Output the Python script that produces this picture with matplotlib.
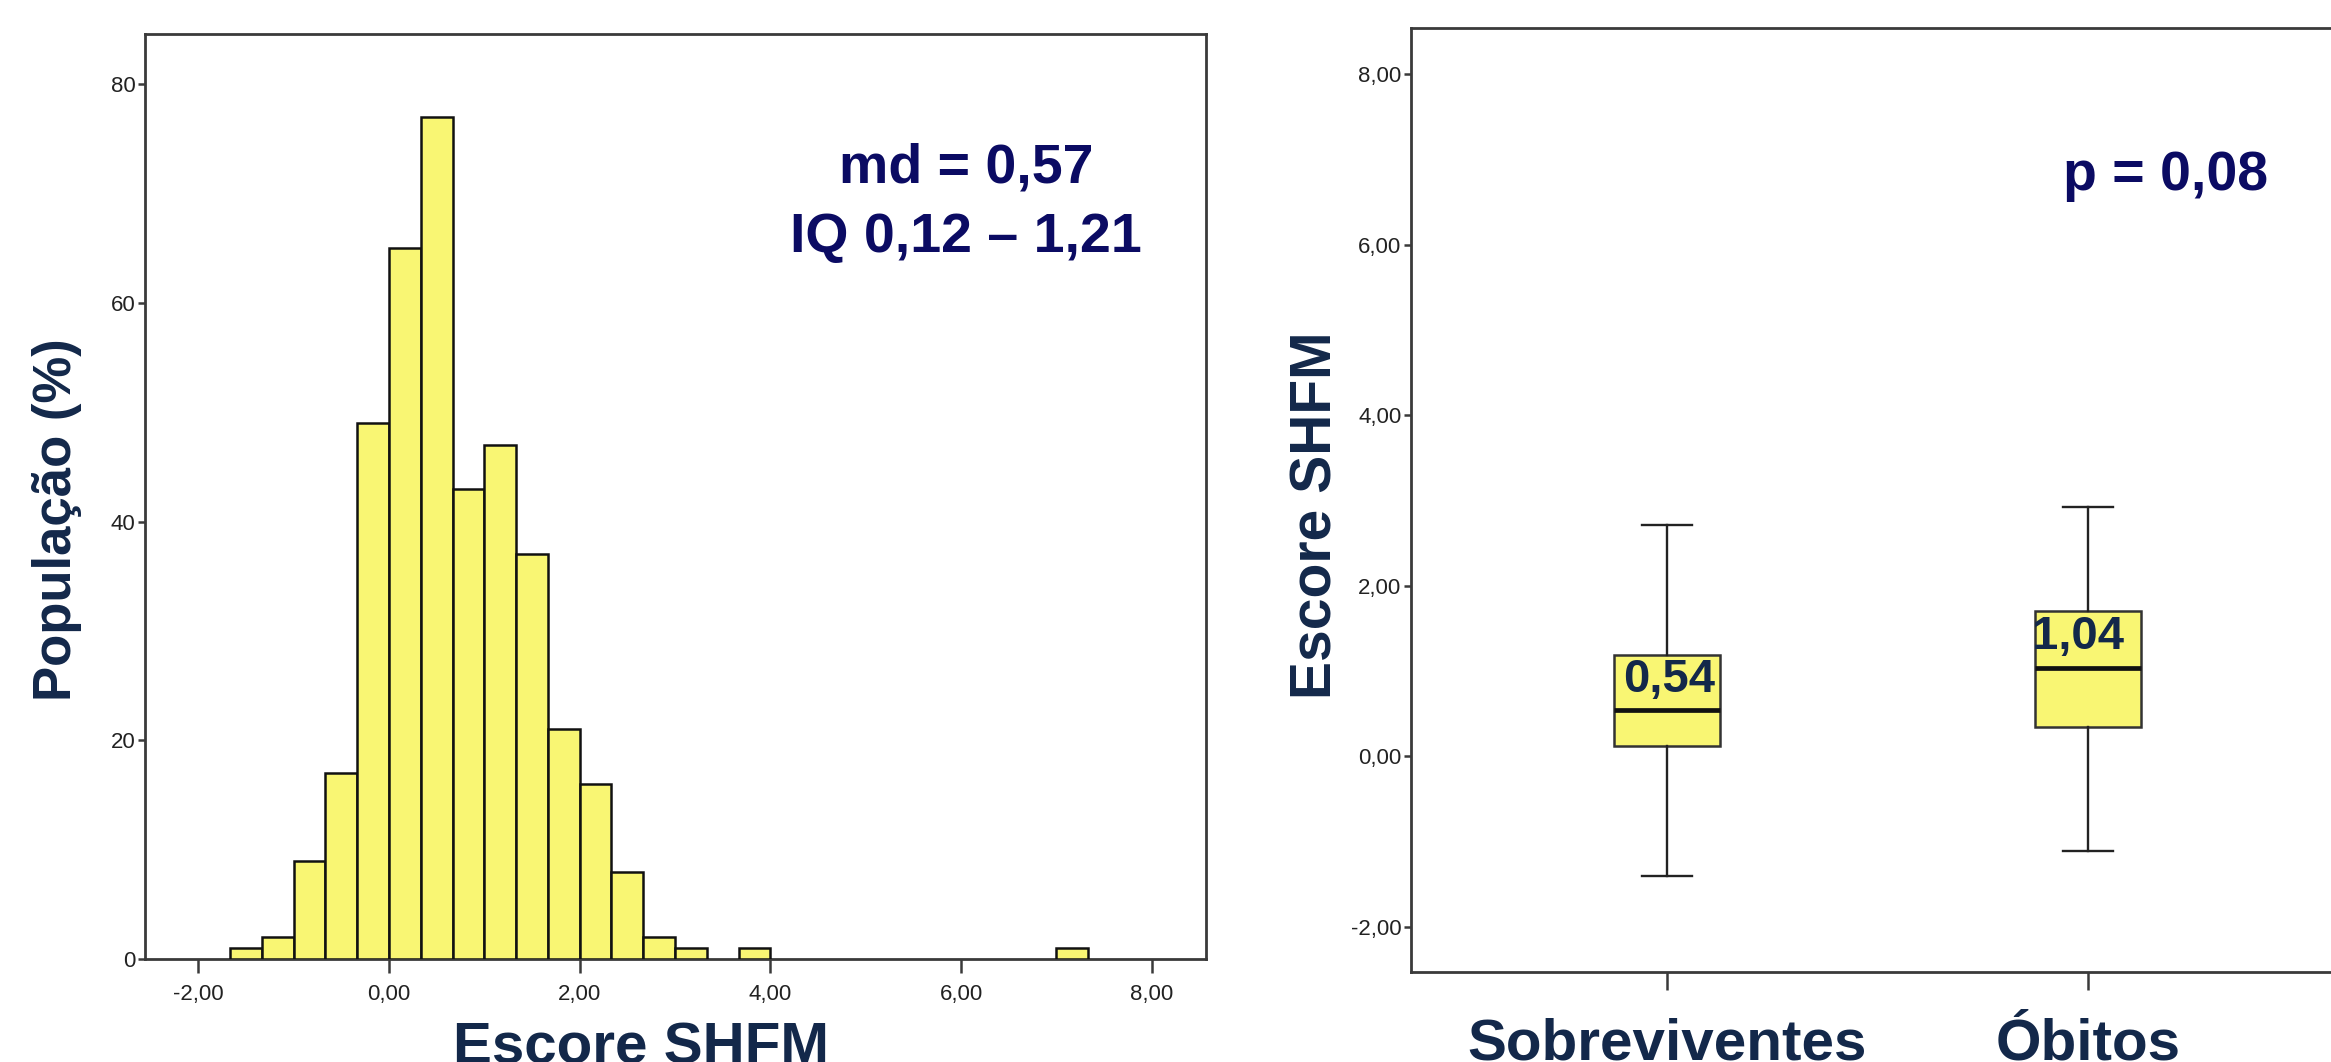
import matplotlib
matplotlib.use("Agg")
import matplotlib.pyplot as plt
from matplotlib import font_manager as fm

# ---------------- data ----------------
bin_width = 1 / 3
bin_starts = [-5/3, -4/3, -1.0, -2/3, -1/3, 0.0, 1/3, 2/3, 1.0, 4/3, 5/3, 2.0,
              7/3, 8/3, 3.0, 11/3, 7.0]
bin_counts = [1, 2, 9, 17, 49, 65, 77, 43, 47, 37, 21, 16, 8, 2, 1, 1, 1]

hist_xticks = [-2, 0, 2, 4, 6, 8]
hist_yticks = [0, 20, 40, 60, 80]

groups = ["Sobreviventes", "Óbitos"]
whislo = [-1.40, -1.11]
q1 = [0.12, 0.34]
med = [0.54, 1.04]
q3 = [1.19, 1.70]
whishi = [2.71, 2.93]
med_labels = ["0,54", "1,04"]
box_yticks = [-2, 0, 2, 4, 6, 8]

# ---------------- style ----------------
names = {f.name for f in fm.fontManager.ttflist}
narrow = "Liberation Sans Narrow" if "Liberation Sans Narrow" in names else "Liberation Sans"
bold_font = "Liberation Sans"
label_color = "#13284a"
annot_color = "#0b0b63"
bar_color = "#f9f673"
spine_color = "#3a3a3a"

def fmt(v):
    return f"{v:.2f}".replace(".", ",")

fig = plt.figure(figsize=(23.31, 10.62), dpi=100)

# ---------------- histogram ----------------
ax1 = fig.add_axes([145/2331, 1 - 959/1062, (1206-145)/2331, (959-34)/1062])
ax1.bar(bin_starts, bin_counts, width=bin_width, align="edge",
        color=bar_color, edgecolor="#111111", linewidth=1.8, zorder=3)
ax1.set_xlim(-2.56, 8.57)
ax1.set_ylim(0, 84.6)
ax1.set_xticks(hist_xticks)
ax1.set_xticklabels([fmt(v) for v in hist_xticks])
ax1.set_yticks(hist_yticks)
ax1.set_yticklabels([str(v) for v in hist_yticks])
for sp in ax1.spines.values():
    sp.set_color(spine_color)
    sp.set_linewidth(2.0)
ax1.tick_params(axis="x", length=10, width=1.8, color=spine_color, pad=8)
ax1.tick_params(axis="y", length=5, width=1.8, color=spine_color, pad=2)
for lab in ax1.get_xticklabels() + ax1.get_yticklabels():
    lab.set_fontfamily(narrow)
    lab.set_fontsize(16)
    lab.set_color("#222222")

ax1.text(0.774, 0.855, "md = 0,57", transform=ax1.transAxes, ha="center", va="center",
         fontsize=40, fontweight="bold", family=bold_font, color=annot_color)
ax1.text(0.774, 0.779, "IQ 0,12 – 1,21", transform=ax1.transAxes, ha="center", va="center",
         fontsize=40, fontweight="bold", family=bold_font, color=annot_color)

fig.text(57/2331, 1 - 520/1062, "População (%)", rotation=90, ha="center", va="center",
         fontsize=38, fontweight="bold", family=bold_font, color=label_color)
fig.text(641/2331, -1/1062, "Escore SHFM", ha="center", va="baseline",
         fontsize=42, fontweight="bold", family=bold_font, color=label_color)

# ---------------- boxplot ----------------
ax2 = fig.add_axes([1411/2331, 1 - 972/1062, (2345-1411)/2331, (972-28.4)/1062])
stats = []
for i in range(len(groups)):
    stats.append(dict(label=groups[i], whislo=whislo[i], q1=q1[i], med=med[i],
                      q3=q3[i], whishi=whishi[i], fliers=[]))
positions = [1, 2]
ax2.bxp(stats, positions=positions, widths=0.25, capwidths=0.12, patch_artist=True,
        showfliers=False,
        boxprops=dict(facecolor=bar_color, edgecolor="#333333", linewidth=1.8),
        whiskerprops=dict(color="#222222", linewidth=1.7),
        capprops=dict(color="#222222", linewidth=1.7),
        medianprops=dict(color="#111111", linewidth=3.4))
ax2.set_xlim(0.392, 2.61)
ax2.set_ylim(-2.53, 8.54)
ax2.set_yticks(box_yticks)
ax2.set_yticklabels([fmt(v) for v in box_yticks])
ax2.set_xticks(positions)
ax2.set_xticklabels(groups)
for sp in ax2.spines.values():
    sp.set_color(spine_color)
    sp.set_linewidth(2.0)
ax2.tick_params(axis="x", length=13, width=1.8, color=spine_color, pad=20)
ax2.tick_params(axis="y", length=5, width=1.8, color=spine_color, pad=2)
for lab in ax2.get_yticklabels():
    lab.set_fontfamily(narrow)
    lab.set_fontsize(16)
    lab.set_color("#222222")
for lab in ax2.get_xticklabels():
    lab.set_fontfamily(bold_font)
    lab.set_fontweight("bold")
    lab.set_fontsize(42)
    lab.set_color(label_color)

label_pos = [(1.005, 0.90), (1.975, 1.40)]
for (x, y), t in zip(label_pos, med_labels):
    ax2.text(x, y, t, ha="center", va="center", fontsize=34, fontweight="bold",
             family=bold_font, color=label_color, zorder=5)

ax2.text(2.185, 6.81, "p = 0,08", ha="center", va="center", fontsize=40,
         fontweight="bold", family=bold_font, color=annot_color)

fig.text(1316/2331, 1 - 515/1062, "Escore SHFM", rotation=90, ha="center", va="center",
         fontsize=41, fontweight="bold", family=bold_font, color=label_color)

fig.savefig("out.png", dpi=100)
